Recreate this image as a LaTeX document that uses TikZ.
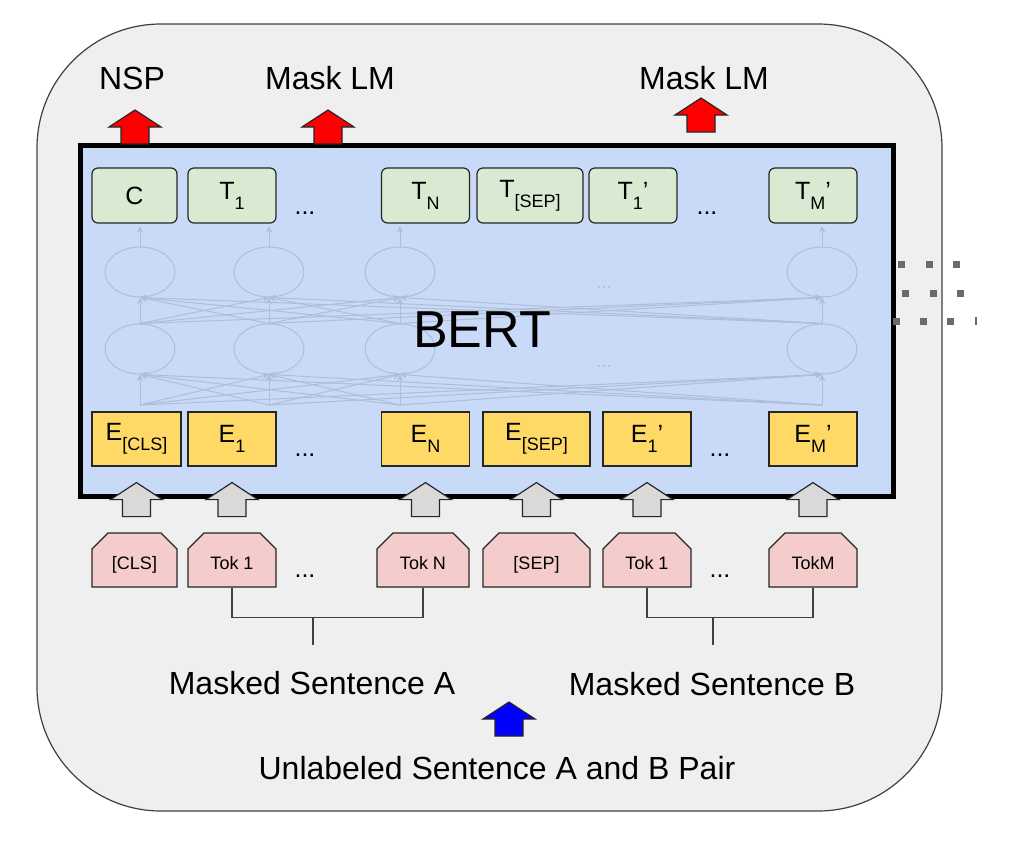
\documentclass[tikz,border=0pt]{standalone}
\usepackage{fontspec}
\setmainfont{Liberation Sans}
\usetikzlibrary{shapes.misc,shapes.geometric,positioning}
\definecolor{outerbg}{HTML}{EFEFEF}
\definecolor{bertbg}{HTML}{C9DAF8}
\definecolor{tgreen}{HTML}{D9EAD3}
\definecolor{eyellow}{HTML}{FFD966}
\definecolor{tokpink}{HTML}{F4CCCC}
\definecolor{arrgray}{HTML}{D9D9D9}
\definecolor{netline}{RGB}{176,189,214}
\definecolor{dotgray}{HTML}{6A6A6A}

\newcommand{\lsub}[1]{\raisebox{-5pt}{\fontsize{9}{9}\selectfont #1}}

\tikzset{
  tbox/.style={draw=black!85, fill=tgreen, rounded corners=3pt, line width=0.6pt,
    minimum width=44pt, minimum height=27.5pt, inner sep=0pt,
    font=\fontsize{12.5}{14}\selectfont},
  ebox/.style={draw=black!85, fill=eyellow, line width=0.6pt,
    minimum width=44pt, minimum height=27pt, inner sep=0pt,
    font=\fontsize{12.5}{14}\selectfont},
  tokbox/.style={chamfered rectangle, chamfered rectangle corners={north west,north east},
    chamfered rectangle xsep=4pt, chamfered rectangle ysep=4pt,
    draw=black!85, fill=tokpink, line width=0.6pt,
    minimum width=44pt, minimum height=27pt, inner sep=0pt,
    text height=9.5pt, text depth=0pt,
    font=\fontsize{9}{11}\selectfont},
  lbl/.style={font=\fontsize{16}{19}\selectfont},
  dots/.style={font=\fontsize{12.5}{14}\selectfont},
  hid/.style={ellipse, draw=netline, line width=0.5pt, minimum width=35pt, minimum height=25pt, inner sep=0pt},
  netarr/.style={->, >=stealth, draw=netline, line width=0.5pt},
  brk/.style={draw=black!75, line width=0.6pt},
  blockup/.pic={\path[pic actions] (0,0) -- (26,17) -- (14,17) -- (14,34) -- (-14,34) -- (-14,17) -- (-26,17) -- cycle;},
  garrow/.style={draw=black!85, fill=arrgray, line width=0.6pt},
  rarrow/.style={draw=black!85, fill=red, line width=0.6pt},
  barrow/.style={draw=black!85, fill=blue, line width=0.6pt}
}

\begin{document}
\begin{tikzpicture}[x=0.5pt,y=-0.5pt]
\useasboundingbox (0,0) rectangle (1014,852);
% outer panel
\draw[fill=outerbg, draw=black!75, line width=0.6pt, rounded corners=62pt] (37,24) rectangle (942,811);
% BERT body
\fill[bertbg] (80,145) rectangle (893,496);

% faded hidden layers
\foreach \x [count=\i] in {140,269,400,822} {
  \node[hid] (hA\i) at (\x,272) {};
  \node[hid] (hB\i) at (\x,349) {};
  \coordinate (in\i) at (\x,405);
  \coordinate (out\i) at (\x,226);
}
\foreach \i in {1,...,4} {
  \draw[netarr] (hA\i.north) -- (out\i);
  \foreach \j in {1,...,4} {
    \draw[netarr] (hB\i.north) -- (hA\j.south);
    \draw[netarr] (in\i) -- (hB\j.south);
  }
}
\node[text=netline, font=\fontsize{9}{9}\selectfont] (hdotsA) at (604,288) {...};
\node[text=netline, font=\fontsize{9}{9}\selectfont] (hdotsB) at (604,367) {...};
\node[font=\fontsize{26}{30}\selectfont] (bert) at (482,330) {BERT};

% output row
\node[tbox, minimum width=42.5pt] (c) at (134.5,195.5) {C};
\node[tbox] (t1) at (232,195.5) {T\lsub{1}};
\node[dots] (tdots1) at (305,213) {...};
\node[tbox] (tn) at (425.5,195.5) {T\lsub{N}};
\node[tbox, minimum width=53pt] (tsep) at (530,195.5) {T\lsub{[SEP]}};
\node[tbox] (t1p) at (633,195.5) {T\lsub{1}’};
\node[dots] (tdots2) at (707,213) {...};
\node[tbox] (tmp) at (813,195.5) {T\lsub{M}’};

% embedding row
\node[ebox, minimum width=44.5pt] (ecls) at (136.5,439) {E\lsub{[CLS]}};
\node[ebox] (e1) at (232,439) {E\lsub{1}};
\node[dots] (edots1) at (305,455) {...};
\node[ebox] (en) at (425.5,439) {E\lsub{N}};
\node[ebox, minimum width=53.5pt] (esep) at (536.5,439) {E\lsub{[SEP]}};
\node[ebox] (e1p) at (647,439) {E\lsub{1}’};
\node[dots] (edots2) at (720,455) {...};
\node[ebox] (emp) at (813,439) {E\lsub{M}’};

\draw[line width=2.5pt] (80,145) rectangle (893,496);

% input tokens
\node[tokbox, minimum width=42.5pt] (tcls) at (134.5,560) {[CLS]};
\node[tokbox] (tokA1) at (232,560) {Tok 1};
\node[dots] (kdots1) at (305,576) {...};
\node[tokbox, minimum width=46pt] (tokAN) at (423,560) {Tok N};
\node[tokbox, minimum width=53.5pt] (tksep) at (536.5,560) {[SEP]};
\node[tokbox] (tokB1) at (647,560) {Tok 1};
\node[dots] (kdots2) at (720,576) {...};
\node[tokbox] (tokBM) at (813,560) {TokM};

\foreach \n in {ecls,e1,en,esep,e1p,emp}
  \pic[garrow] at ([yshift=-8pt]\n.south) {blockup};

% sentence brackets
\coordinate (sa) at (313,617);
\coordinate (sb) at (713,617);
\draw[brk] (tokA1.south) -- ++(0,30) -| (tokAN.south);
\draw[brk] (tokB1.south) -- ++(0,30) -| (tokBM.south);
\draw[brk] (sa) -- ++(0,28);
\draw[brk] (sb) -- ++(0,28);
\node[lbl] (senta) at (312,683) {Masked Sentence A};
\node[lbl] (sentb) at (712,684) {Masked Sentence B};
\pic[barrow] at (509,702) {blockup};
\node[lbl] (pair) at (497,768) {Unlabeled Sentence A and B Pair};

% heads
\node[lbl] (nsp) at (132,78) {NSP};
\node[lbl] (mlmA) at (330,78) {Mask LM};
\node[lbl] (mlmB) at (704,78) {Mask LM};
\pic[rarrow] at (135,110) {blockup};
\pic[rarrow] at (328,110) {blockup};
\pic[rarrow] at (701,98) {blockup};

% stacked layers hint
\foreach \x/\y in {901/264,929/264,956/264,905/293,933/293,960/293,896/321,923/321,950/321}
  \fill[dotgray] (\x-3.5,\y-3.5) rectangle +(7,7);
\fill[dotgray] (975,317) rectangle (977,325);
\end{tikzpicture}
\end{document}
